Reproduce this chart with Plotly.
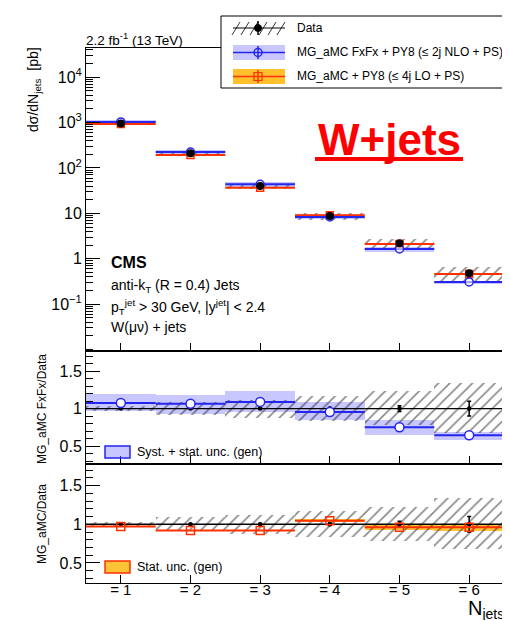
import numpy as np
import plotly.graph_objects as go
from plotly.subplots import make_subplots

# ---------------- data ----------------
njets = [1, 2, 3, 4, 5, 6]
tick_labels = ["= 1", "= 2", "= 3", "= 4", "= 5", "= 6"]
data_xsec = [955, 210, 40, 8.7, 2.2, 0.48]          # pb
data_stat_rel = [0.005, 0.008, 0.01, 0.015, 0.04, 0.10]
data_unc_up = [0.035, 0.09, 0.12, 0.17, 0.23, 0.34]  # total rel. unc.
data_unc_dn = [0.035, 0.09, 0.12, 0.16, 0.22, 0.32]
fxfx_ratio = [1.075, 1.065, 1.09, 0.955, 0.75, 0.645]
fxfx_band_lo = [0.97, 0.93, 0.96, 0.845, 0.645, 0.58]
fxfx_band_hi = [1.19, 1.18, 1.24, 1.09, 0.845, 0.69]
lo_ratio = [0.97, 0.92, 0.92, 1.045, 0.96, 0.96]
lo_stat_rel = [0.01, 0.01, 0.012, 0.02, 0.03, 0.05]

x = np.array(njets, dtype=float)
d = np.array(data_xsec)
dst = np.array(data_stat_rel)
dup = np.array(data_unc_up)
ddn = np.array(data_unc_dn)
fr = np.array(fxfx_ratio)
flo = np.array(fxfx_band_lo)
fhi = np.array(fxfx_band_hi)
lr = np.array(lo_ratio)
lst = np.array(lo_stat_rel)

BLUE = "#2525f0"
BLUE_BAND = "rgba(110,110,255,0.38)"
RED = "#ff3000"
ORANGE_BAND = "rgba(255,185,20,0.85)"
FONT = "Liberation Sans, Arial, sans-serif"

fig = make_subplots(rows=3, cols=1, shared_xaxes=True, vertical_spacing=0,
                    row_heights=[303, 113, 119])

hatch = dict(color="rgba(0,0,0,0)",
             pattern=dict(shape="/", fgcolor="#111111", bgcolor="rgba(0,0,0,0)",
                          size=8, solidity=0.2, fillmode="overlay"),
             line=dict(width=0))

def band(row, lo, hi, color):
    fig.add_trace(go.Bar(x=x, base=lo, y=hi - lo, width=1,
                         marker=dict(color=color, line=dict(width=0)),
                         hoverinfo="skip"), row=row, col=1)

def hatchband(row, lo, hi):
    fig.add_trace(go.Bar(x=x, base=lo, y=hi - lo, width=1, marker=hatch,
                         hoverinfo="skip"), row=row, col=1)

def steps(row, y, color, width, symbol, msize, mfill, err_y=None):
    fig.add_trace(go.Scatter(
        x=x, y=y, mode="markers",
        marker=dict(symbol=symbol, size=msize, color=mfill,
                    line=dict(color=color, width=1.5)),
        error_x=dict(type="constant", value=0.5, color=color, thickness=width, width=0),
        error_y=(dict(type="data", array=err_y, color=color, thickness=1.5, width=2)
                 if err_y is not None else dict(visible=False)),
        hoverinfo="skip"), row=row, col=1)

# ---------------- top panel ----------------
band(1, d * flo, d * fhi, BLUE_BAND)
band(1, d * lr * (1 - lst), d * lr * (1 + lst), ORANGE_BAND)
hatchband(1, d * (1 - ddn), d * (1 + dup))
steps(1, d * lr, RED, 2, "square", 7, "rgba(255,255,255,0)")
steps(1, d * fr, BLUE, 2, "circle", 8, "rgba(255,255,255,0.6)")
fig.add_trace(go.Scatter(x=x, y=d, mode="markers",
                         marker=dict(symbol="circle", size=8, color="black"),
                         error_y=dict(type="data", array=d * dst, color="black",
                                      thickness=1.5, width=0),
                         hoverinfo="skip"), row=1, col=1)

# ---------------- middle panel (FxFx / data) ----------------
band(2, flo, fhi, BLUE_BAND)
hatchband(2, 1 - ddn, 1 + dup)
ones = np.ones_like(x)
steps(2, ones, "black", 1.3, "circle", 3, "black", err_y=dst)
steps(2, fr, BLUE, 2, "circle", 9, "white")

# ---------------- bottom panel (LO / data) ----------------
band(3, lr * (1 - lst), lr * (1 + lst), ORANGE_BAND)
hatchband(3, 1 - ddn, 1 + dup)
steps(3, ones, "black", 1.3, "circle", 3, "black", err_y=dst)
steps(3, lr, RED, 2, "square-open", 8, RED)

# ---------------- axes ----------------
axfont = dict(family=FONT, size=16, color="black")
for r in (1, 2, 3):
    fig.update_xaxes(range=[0.5, 6.5], tickvals=njets, ticktext=tick_labels,
                     ticks="inside", ticklen=8, tickcolor="black",
                     showline=True, mirror=True, linecolor="black", linewidth=1,
                     showgrid=False, zeroline=False,
                     showticklabels=(r == 3), tickfont=dict(family=FONT, size=15, color="black"),
                     row=r, col=1)
fig.update_xaxes(ticklabelstandoff=-7, row=3, col=1)

fig.update_yaxes(type="log", range=[-2.03, 4.64],
                 tickvals=[0.1, 1, 10, 100, 1000, 10000],
                 ticktext=["10<sup>\u22121</sup>", "1", "10", "10<sup>2</sup>",
                           "10<sup>3</sup>", "10<sup>4</sup>"],
                 ticks="inside", ticklen=14, tickcolor="black",
                 minor=dict(ticks="inside", ticklen=7, tickcolor="black", dtick="D1", showgrid=False),
                 showline=True, mirror=True, linecolor="black", linewidth=1,
                 showgrid=False, zeroline=False, tickfont=axfont, row=1, col=1)
for r, rng in ((2, [0.26, 1.77]), (3, [0.24, 1.78])):
    fig.update_yaxes(range=rng, tickvals=[0.5, 1, 1.5], ticktext=["0.5", "1", "1.5"],
                     ticks="inside", ticklen=14, tickcolor="black",
                     minor=dict(ticks="inside", ticklen=7, tickcolor="black", dtick=0.1, showgrid=False),
                     showline=True, mirror=True, linecolor="black", linewidth=1,
                     showgrid=False, zeroline=False, tickfont=axfont, row=r, col=1)

# ---------------- layout / text ----------------
W, H = 510, 620
L, R, T, B = 78, 496, 40, 575
def px(v):
    return (v - L) / (R - L)
def py(v):
    return (B - v) / (B - T)

ann = []
def text(xp, yp, s, size, xanchor="left", yanchor="middle", angle=0, color="black"):
    ann.append(dict(x=px(xp), y=py(yp), xref="paper", yref="paper", text=s,
                    showarrow=False, xanchor=xanchor, yanchor=yanchor, textangle=angle,
                    font=dict(family=FONT, size=size, color=color)))

text(76, 31, "2.2 fb<sup>-1</sup> (13 TeV)", 13.5)
text(26, 82, "d\u03c3/dN<sub>jets</sub>  [pb]", 14, xanchor="center", angle=-90)
text(34, 401, "MG_aMC FxFx/Data", 12, xanchor="center", angle=-90)
text(34, 516, "MG_aMC/Data", 12, xanchor="center", angle=-90)
text(498, 601, "N<sub>jets</sub>", 20, xanchor="right")
text(101, 254, "<b>CMS</b>", 16)
text(101, 278, "anti-k<sub>T</sub> (R = 0.4) Jets", 14)
text(101, 299, "p<sub>T</sub><sup>jet</sup> > 30 GeV, |y<sup>jet</sup>| < 2.4", 14)
text(101, 319, "W(\u03bc\u03bd) + jets", 14)
text(381, 131, "<b>W+jets</b>", 44, xanchor="center", color="#ff0000")
text(287, 20, "Data", 12)
text(287, 44, "MG_aMC FxFx + PY8 (\u2264 2j NLO + PS)", 12)
text(287, 68, "MG_aMC + PY8 (\u2264 4j LO + PS)", 12)
text(127, 444, "Syst. + stat. unc. (gen)", 12.5)
text(127, 559, "Stat. unc. (gen)", 12.5)

shp = []
def rect(x0, y0, x1, y1, fill, line, lw=1):
    shp.append(dict(type="rect", xref="paper", yref="paper", x0=px(x0), x1=px(x1),
                    y0=py(y1), y1=py(y0), fillcolor=fill, line=dict(color=line, width=lw)))
def seg(x0, y0, x1, y1, color, lw=1):
    shp.append(dict(type="line", xref="paper", yref="paper", x0=px(x0), x1=px(x1),
                    y0=py(y0), y1=py(y1), line=dict(color=color, width=lw)))
def circ(cx, cy, r, fill, line, lw=1.5):
    shp.append(dict(type="circle", xref="paper", yref="paper", x0=px(cx - r), x1=px(cx + r),
                    y0=py(cy + r), y1=py(cy - r), fillcolor=fill, line=dict(color=line, width=lw)))

# underline of W+jets
seg(307, 151, 455, 151, "#ff0000", 4)

# legend box
rect(213, 8, 509, 80, "white", "black", 1)
for i in range(6):
    x0 = 224 + i * 9
    seg(x0, 27, min(x0 + 8, 277), 14, "#333333", 1)
seg(225, 20, 277, 20, "black", 1)
seg(250, 13, 250, 27, "black", 1.5)
circ(250, 20, 3.5, "black", "black", 1)
rect(225, 37, 277, 52, "rgba(110,110,255,0.38)", "rgba(0,0,0,0)", 0)
seg(225, 44.5, 277, 44.5, BLUE, 1.5)
seg(250, 38, 250, 51, BLUE, 1.5)
circ(250, 44.5, 4, "rgba(0,0,0,0)", BLUE, 1.5)
rect(225, 61, 277, 76, "rgba(255,185,20,0.9)", "rgba(0,0,0,0)", 0)
seg(225, 68.5, 277, 68.5, RED, 1.5)
seg(250, 62, 250, 75, RED, 1.5)
rect(246, 64.5, 254, 72.5, "rgba(0,0,0,0)", RED, 1.2)

# ratio-panel legends
rect(97, 438, 122, 450, "rgba(110,110,255,0.38)", BLUE, 1.5)
rect(97, 553, 122, 565, ORANGE_BAND, RED, 1.5)

fig.update_layout(width=W, height=H, autosize=False,
                  margin=dict(l=L, r=W - R, t=T, b=H - B),
                  plot_bgcolor="white", paper_bgcolor="white",
                  barmode="overlay", bargap=0, showlegend=False,
                  font=dict(family=FONT, color="black"),
                  annotations=ann, shapes=shp)

fig.write_html("out.html")
